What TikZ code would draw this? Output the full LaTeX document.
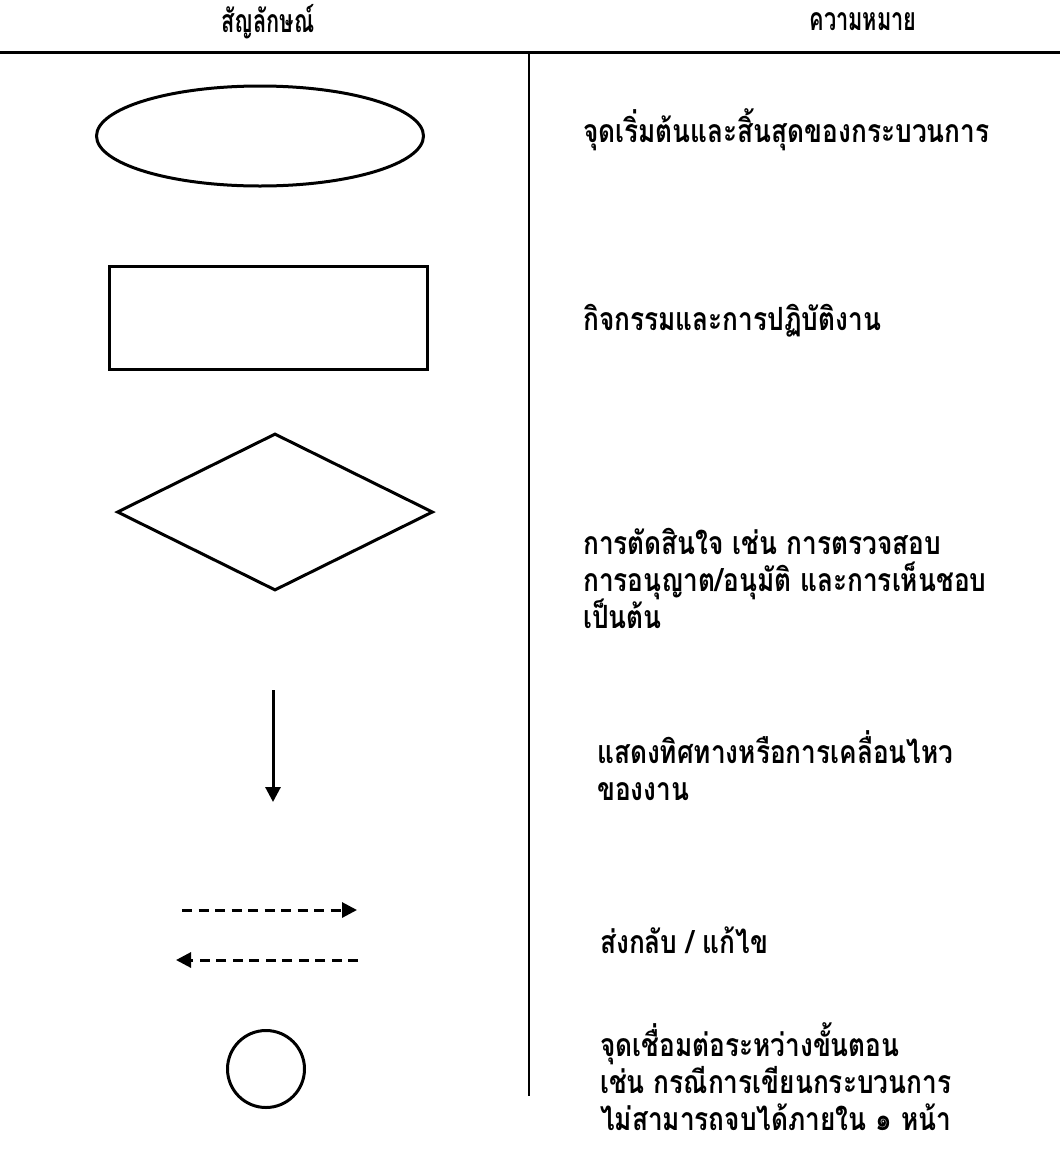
\documentclass[tikz,border=0pt]{standalone}
\usepackage{fontspec}
\newfontfamily\thaifont[Script=Thai, FakeStretch=0.82]{Loma}
\newfontfamily\thaihead[Script=Thai, FakeStretch=0.68]{Loma}
\usetikzlibrary{shapes.geometric,arrows.meta,positioning}

\tikzset{
  symbol/.style={draw, line width=3pt, inner sep=0pt},
  meaning/.style={anchor=base west, inner sep=0pt, font=\thaifont\bfseries\fontsize{32}{37}\selectfont},
  headtext/.style={inner sep=0pt, font=\thaihead\bfseries\fontsize{32}{37}\selectfont},
  flow/.style={line width=3pt, -{Triangle[length=15pt,width=15pt]}},
  back/.style={flow, dash pattern=on 10pt off 6.5pt},
}

\begin{document}
\begin{tikzpicture}[x=1pt, y=-1pt]
  \useasboundingbox (0,0) rectangle (1060,1157);
  \def\gap{37pt} % line spacing

  % --- Header ---
  \node[headtext] (hsym) at (268,22) {สัญลักษณ์};
  \node[headtext] (hmean) at (863,22) {ความหมาย};
  \draw[line width=3pt] (0,52) -- (1060,52);
  \draw[line width=2pt] (529,52) -- (529,1096);

  % --- Symbols ---
  \node[symbol, ellipse, minimum width=327pt, minimum height=100pt] (term) at (260,136) {};
  \node[symbol, rectangle, minimum width=318pt, minimum height=103pt] (proc) at (268,318) {};
  \node[symbol, diamond, aspect=2, minimum width=316pt, minimum height=157pt] (dec) at (275,512) {};

  \coordinate (down1) at (273,690);
  \coordinate (down2) at (273,802);
  \draw[flow] (down1) -- (down2);

  \coordinate (fwd1) at (182,910);
  \coordinate (fwd2) at (357,910);
  \draw[back] (fwd1) -- (fwd2);
  \coordinate (ret1) at (358,960);
  \coordinate (ret2) at (176,960);
  \draw[back] (ret1) -- (ret2);

  \node[symbol, circle, minimum size=77pt] (conn) at (266,1069) {};

  % --- Meanings ---
  \node[meaning] (m1) at (583,142) {จุดเริ่มต้นและสิ้นสุดของกระบวนการ};
  \node[meaning] (m2) at (583,330) {กิจกรรมและการปฏิบัติงาน};

  \node[meaning] (m3a) at (583,554) {การตัดสินใจ เช่น การตรวจสอบ};
  \node[meaning] (m3b) at ([yshift=-\gap]m3a.base west) {การอนุญาต/อนุมัติ และการเห็นชอบ};
  \node[meaning] (m3c) at ([yshift=-\gap]m3b.base west) {เป็นต้น};

  \node[meaning] (m4a) at (597,763) {แสดงทิศทางหรือการเคลื่อนไหว};
  \node[meaning] (m4b) at ([yshift=-\gap]m4a.base west) {ของงาน};

  \node[meaning] (m5) at (600,953) {ส่งกลับ / แก้ไข};

  \node[meaning] (m6a) at (600,1056) {จุดเชื่อมต่อระหว่างขั้นตอน};
  \node[meaning] (m6b) at ([yshift=-\gap]m6a.base west) {เช่น กรณีการเขียนกระบวนการ};
  \node[meaning] (m6c) at ([yshift=-\gap]m6b.base west) {ไม่สามารถจบได้ภายใน ๑ หน้า};
\end{tikzpicture}
\end{document}
